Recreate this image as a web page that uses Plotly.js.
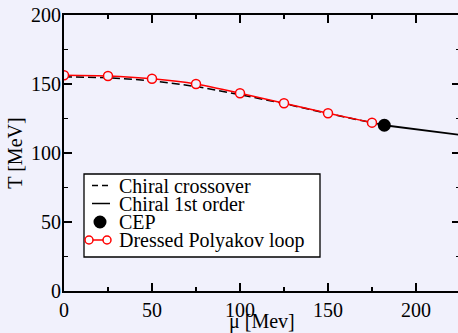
<!DOCTYPE html>
<html><head><meta charset="utf-8">
<script src="https://cdn.plot.ly/plotly-3.0.1.min.js"></script>
<style>html,body{margin:0;padding:0;overflow:hidden;background:#f1f1fc;}</style>
</head><body><div id="chart"></div>
<script>
// ---- data ----
const muPolyakov = [0, 25, 50, 75, 100, 125, 150, 175];
const tPolyakov  = [156.3, 155.8, 153.8, 150.0, 143.3, 136.0, 128.8, 122.0];
const muCrossover = [0, 25, 50, 75, 100, 125, 150, 175, 182];
const tCrossover  = [155.2, 154.6, 152.4, 148.2, 142.3, 135.8, 128.6, 122.3, 120.1];
const muFirstOrder = [182, 200, 225];
const tFirstOrder  = [120.1, 117.2, 113.1];
const muCEP = [182];
const tCEP  = [120.1];
const legendLabels = ["Chiral crossover", "Chiral 1st order", "CEP", "Dressed Polyakov loop"];
const xTickVals = [0, 50, 100, 150, 200];
const yTickVals = [0, 50, 100, 150, 200];
const xTitle = "μ [Mev]";
const yTitle = "T [MeV]";

// ---- layout geometry ----
const BG = "#f1f1fc";
const FONT = "Liberation Serif";
const W = 470, H = 333, L = 64, R = 10, T = 15, B = 42;
const PW = W - L - R, PH = H - T - B;
const px = x => (x - L) / PW;
const py = y => (T + PH - y) / PH;

const traces = [
  {x: muCrossover, y: tCrossover, mode: "lines", line: {color: "black", width: 1.5, dash: "8px,4px"}, name: legendLabels[0]},
  {x: muFirstOrder, y: tFirstOrder, mode: "lines", line: {color: "black", width: 1.8}, name: legendLabels[1]},
  {x: muPolyakov, y: tPolyakov, mode: "lines+markers", line: {color: "red", width: 1.5, shape: "spline", smoothing: 0.6},
   marker: {symbol: "circle", size: 9, color: BG, line: {color: "red", width: 1.5}}, name: legendLabels[3]},
  {x: muCEP, y: tCEP, mode: "markers", marker: {symbol: "circle", size: 13, color: "black"}, name: legendLabels[2]}
];

// custom legend (box, samples, text)
const entryY = [185.5, 203.5, 222, 240];
const shapes = [
  {type: "rect", xref: "paper", yref: "paper", x0: px(84), x1: px(320), y0: py(257), y1: py(174),
   fillcolor: "white", line: {color: "black", width: 1.3}},
  {type: "line", xref: "paper", yref: "paper", x0: px(92), x1: px(110), y0: py(entryY[0]), y1: py(entryY[0]),
   line: {color: "black", width: 1.5, dash: "6px,4px"}},
  {type: "line", xref: "paper", yref: "paper", x0: px(92), x1: px(110), y0: py(entryY[1]), y1: py(entryY[1]),
   line: {color: "black", width: 1.5}},
  {type: "circle", xref: "paper", yref: "paper", x0: px(93.5), x1: px(106.5), y0: py(entryY[2] + 6.5), y1: py(entryY[2] - 6.5),
   fillcolor: "black", line: {color: "black", width: 0}},
  {type: "line", xref: "paper", yref: "paper", x0: px(85), x1: px(111), y0: py(entryY[3]), y1: py(entryY[3]),
   line: {color: "red", width: 1.5}},
  {type: "circle", xref: "paper", yref: "paper", x0: px(85), x1: px(93), y0: py(entryY[3] + 4), y1: py(entryY[3] - 4),
   fillcolor: "white", line: {color: "red", width: 1.5}},
  {type: "circle", xref: "paper", yref: "paper", x0: px(103), x1: px(111), y0: py(entryY[3] + 4), y1: py(entryY[3] - 4),
   fillcolor: "white", line: {color: "red", width: 1.5}}
];
const annotations = legendLabels.map((t, i) => ({
  text: t, xref: "paper", yref: "paper", x: px(118), y: py(entryY[i]), xanchor: "left", yanchor: "middle",
  showarrow: false, font: {family: FONT, size: 20, color: "black"}, borderpad: 0
}));
// x-axis title, placed like the reference (close under the tick labels)
annotations.push({
  text: xTitle, xref: "paper", yref: "paper", x: 0.5, y: py(321.5), xanchor: "center", yanchor: "middle",
  showarrow: false, font: {family: FONT, size: 20, color: "black"}, borderpad: 0
});

const axisCommon = {
  showline: true, linecolor: "black", linewidth: 2, mirror: "allticks",
  ticks: "inside", ticklen: 8, tickwidth: 1.5, tickcolor: "black",
  showgrid: false, zeroline: false,
  tickfont: {family: FONT, size: 20, color: "black"},
  minor: {ticks: "inside", ticklen: 4, tickwidth: 1.5, tickcolor: "black", dtick: 25, showgrid: false}
};

const layout = {
  width: W, height: H,
  margin: {l: L, r: R, t: T, b: B},
  paper_bgcolor: BG, plot_bgcolor: BG,
  showlegend: false,
  font: {family: FONT, size: 20, color: "black"},
  xaxis: Object.assign({}, axisCommon, {range: [0, 225], tickvals: xTickVals}),
  yaxis: Object.assign({}, axisCommon, {range: [0, 200], tickvals: yTickVals, ticklabelstandoff: -3,
    title: {text: yTitle, font: {family: FONT, size: 20, color: "black"}, standoff: 3}}),
  shapes: shapes,
  annotations: annotations
};

Plotly.newPlot("chart", traces, layout, {displayModeBar: false, staticPlot: true});
</script></body></html>
